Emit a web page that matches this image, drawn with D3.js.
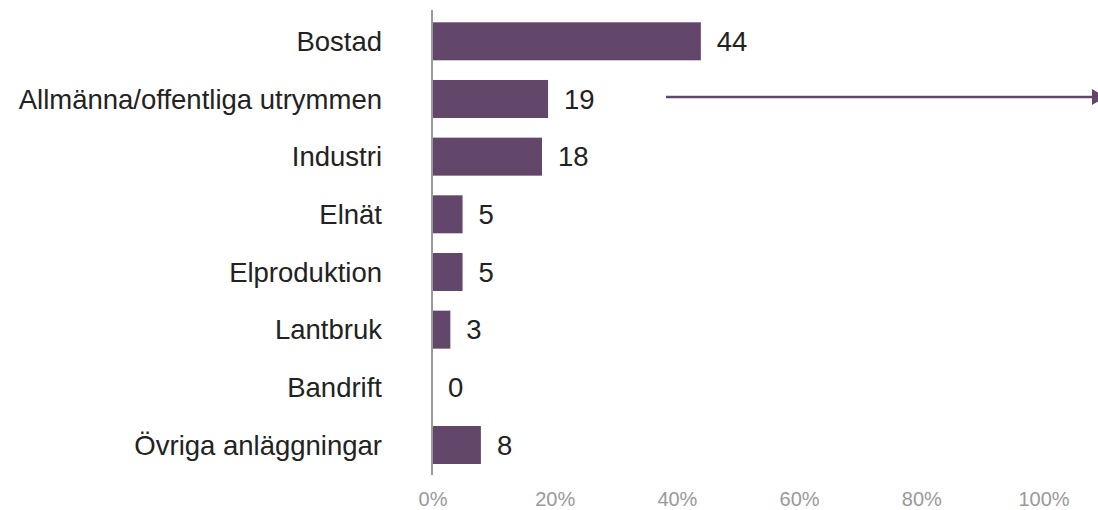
<!DOCTYPE html>
<html><head><meta charset="utf-8">
<script src="https://cdn.jsdelivr.net/npm/d3@7"></script>
<style>body{margin:0;background:#fff}svg{display:block}</style>
</head><body>
<svg id="c" width="1098" height="510"></svg>
<script>
const categories = ["Bostad","Allmänna/offentliga utrymmen","Industri","Elnät","Elproduktion","Lantbruk","Bandrift","Övriga anläggningar"];
const values = [44,19,18,5,5,3,0,8];
const tickValues = [0,20,40,60,80,100];
const tickLabels = ["0%","20%","40%","60%","80%","100%"];

const svg = d3.select("#c");
const x = d3.scaleLinear().domain([0,100]).range([432,1043]);
const y = d3.scaleBand().domain(categories).range([12.5,473.8]).paddingInner(0.341).paddingOuter(0.17);
const col = "#62476a";
const font = "'Liberation Sans', Arial, sans-serif";

svg.append("g").selectAll("rect").data(values).join("rect")
  .attr("x", x(0)+1).attr("y",(d,i)=>y(categories[i]))
  .attr("width", d=>Math.max(0,x(d)-x(0)-1)).attr("height", y.bandwidth())
  .attr("fill", col);

svg.append("line").attr("x1",x(0)).attr("x2",x(0)).attr("y1",10).attr("y2",475)
  .attr("stroke","#999").attr("stroke-width",2);

svg.append("g").selectAll("text").data(categories).join("text")
  .attr("x",382).attr("y",d=>y(d)+y.bandwidth()/2).attr("dy","0.35em")
  .attr("text-anchor","end").attr("font-family",font).attr("font-size",27.5)
  .attr("fill","#222").text(d=>d);

svg.append("g").selectAll("text").data(values).join("text")
  .attr("x",d=>x(d)+16).attr("y",(d,i)=>y(categories[i])+y.bandwidth()/2).attr("dy","0.35em")
  .attr("font-family",font).attr("font-size",27.5).attr("fill","#222").text(d=>d);

svg.append("g").selectAll("text").data(tickValues).join("text")
  .attr("x",d=>x(d)+1).attr("y",506).attr("text-anchor","middle")
  .attr("font-family",font).attr("font-size",20).attr("fill","#999")
  .text((d,i)=>tickLabels[i]);

svg.append("line").attr("x1",666).attr("x2",1092).attr("y1",97).attr("y2",97)
  .attr("stroke",col).attr("stroke-width",2.5);
svg.append("path").attr("d","M1092,89L1106,97L1092,105Z").attr("fill",col);
</script>
</body></html>
